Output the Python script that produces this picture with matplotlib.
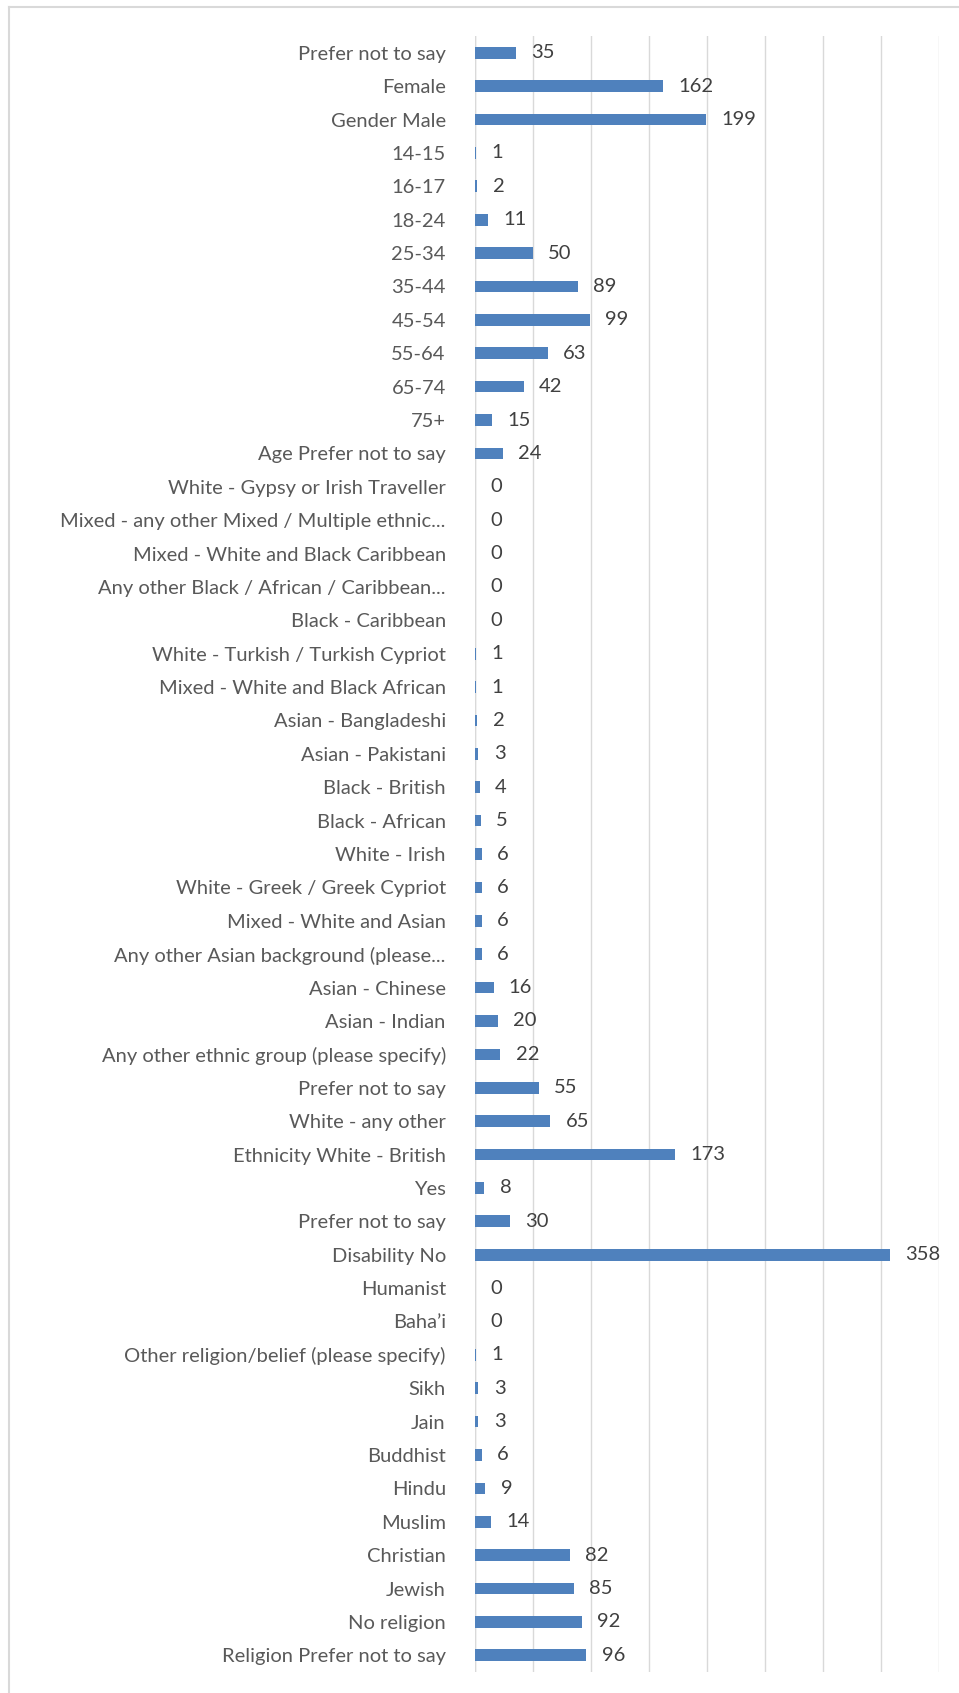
import matplotlib.pyplot as plt
from matplotlib.lines import Line2D

# categories top to bottom as in the chart
categories = [
    "Prefer not to say", "Female", "Gender Male",
    "14-15", "16-17", "18-24", "25-34", "35-44", "45-54", "55-64", "65-74", "75+",
    "Age Prefer not to say",
    "White - Gypsy or Irish Traveller", "Mixed - any other Mixed / Multiple ethnic...",
    "Mixed - White and Black Caribbean", "Any other Black / African / Caribbean...",
    "Black - Caribbean", "White - Turkish / Turkish Cypriot", "Mixed - White and Black African",
    "Asian - Bangladeshi", "Asian - Pakistani", "Black - British", "Black - African",
    "White - Irish", "White - Greek / Greek Cypriot", "Mixed - White and Asian",
    "Any other Asian background (please...", "Asian - Chinese", "Asian - Indian",
    "Any other ethnic group (please specify)", "Prefer not to say", "White - any other",
    "Ethnicity White - British",
    "Yes", "Prefer not to say", "Disability No",
    "Humanist", "Baha\u2019i", "Other religion/belief (please specify)", "Sikh", "Jain",
    "Buddhist", "Hindu", "Muslim", "Christian", "Jewish", "No religion",
    "Religion Prefer not to say",
]
counts = [
    35, 162, 199,
    1, 2, 11, 50, 89, 99, 63, 42, 15,
    24,
    0, 0, 0, 0, 0, 1, 1, 2, 3, 4, 5, 6, 6, 6, 6, 16, 20, 22, 55, 65, 173,
    8, 30, 358,
    0, 0, 1, 3, 3, 6, 9, 14, 82, 85, 92, 96,
]

plt.rcParams['font.family'] = ['Lato', 'DejaVu Sans']
text_color = '#595959'
grid_color = '#D9D9D9'
bar_color = '#4F81BD'

fig = plt.figure(figsize=(9.59, 16.93), dpi=100)
ax = fig.add_axes([0.4953, 0.0124, 0.9787 - 0.4953, 0.9787 - 0.0124])

ypos = list(range(len(categories)))
ax.barh(ypos, counts, height=0.35, color=bar_color, zorder=3)

for y, v in zip(ypos, counts):
    ax.annotate(str(v), (v, y), xytext=(11, 0), textcoords='offset points',
                va='center', ha='left', fontsize=14.5, color='#404040')

ax.set_yticks(ypos)
ax.set_yticklabels(categories, fontsize=14.5, color=text_color)
ax.tick_params(axis='y', length=0, pad=21)
ax.set_ylim(len(categories) - 0.5, -0.5)

ax.set_xlim(0, 400)
ax.set_xticks(range(0, 401, 50))
ax.set_xticklabels([])
ax.tick_params(axis='x', length=0)
ax.grid(axis='x', color=grid_color, linewidth=1.0, zorder=0)

for s in ax.spines.values():
    s.set_visible(False)
ax.axvline(0, color=grid_color, linewidth=1.0, zorder=1)

# chart area border (left and top visible, the rest runs off the image)
fig.add_artist(Line2D([9 / 959, 9 / 959], [0, 1 - 7 / 1693], color=grid_color, linewidth=1.5))
fig.add_artist(Line2D([9 / 959, 1], [1 - 7 / 1693, 1 - 7 / 1693], color=grid_color, linewidth=1.5))

fig.savefig('out.png', dpi=100, facecolor='white')
